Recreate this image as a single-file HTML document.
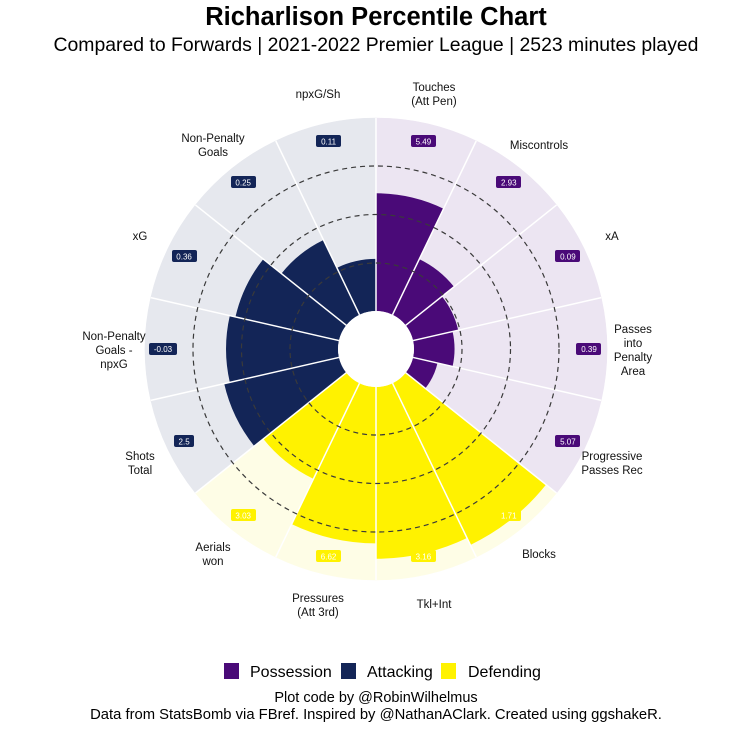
<!DOCTYPE html>
<html><head><meta charset="utf-8">
<style>
body{margin:0;background:#fff;width:750px;height:727px;overflow:hidden;font-family:"Liberation Sans",sans-serif;}
svg text{font-family:"Liberation Sans",sans-serif;}
</style></head>
<body>
<svg id="s" width="750" height="727" viewBox="0 0 750 727" xmlns="http://www.w3.org/2000/svg">
<text x="376" y="25" text-anchor="middle" font-size="25.5" font-weight="bold" fill="#000">Richarlison Percentile Chart</text>
<text x="376" y="51" text-anchor="middle" font-size="19.4" fill="#000">Compared to Forwards | 2021-2022 Premier League | 2523 minutes played</text>
<g id="shapes"></g>
<g id="vals" font-size="8" text-anchor="middle" fill="#fff">
<rect x="411" y="135" width="25" height="12" rx="2" fill="#4a0a78"/><text x="423.4" y="144.3">5.49</text>
<rect x="496" y="176" width="25" height="12" rx="2" fill="#4a0a78"/><text x="508.8" y="185.5">2.93</text>
<rect x="555" y="250" width="25" height="12" rx="2" fill="#4a0a78"/><text x="567.9" y="259.6">0.09</text>
<rect x="576" y="343" width="25" height="12" rx="2" fill="#4a0a78"/><text x="589" y="352">0.39</text>
<rect x="555" y="435" width="25" height="12" rx="2" fill="#4a0a78"/><text x="567.9" y="444.4">5.07</text>
<rect x="496" y="509" width="25" height="12" rx="2" fill="#fff200"/><text x="508.8" y="518.5">1.71</text>
<rect x="411" y="550" width="25" height="12" rx="2" fill="#fff200"/><text x="423.4" y="559.7">3.16</text>
<rect x="316" y="550" width="25" height="12" rx="2" fill="#fff200"/><text x="328.6" y="559.7">6.62</text>
<rect x="231" y="509" width="25" height="12" rx="2" fill="#fff200"/><text x="243.2" y="518.5">3.03</text>
<rect x="174" y="435" width="20" height="12" rx="2" fill="#132557"/><text x="184.1" y="444.4">2.5</text>
<rect x="149" y="343" width="28" height="12" rx="2" fill="#132557"/><text x="163" y="352">-0.03</text>
<rect x="172" y="250" width="25" height="12" rx="2" fill="#132557"/><text x="184.1" y="259.6">0.36</text>
<rect x="231" y="176" width="25" height="12" rx="2" fill="#132557"/><text x="243.2" y="185.5">0.25</text>
<rect x="316" y="135" width="25" height="12" rx="2" fill="#132557"/><text x="328.6" y="144.3">0.11</text>
</g>
<g font-size="11.5" text-anchor="middle" fill="#111">
<text x="434" y="91">Touches</text><text x="434" y="105">(Att Pen)</text>
<text x="539" y="149">Miscontrols</text>
<text x="612" y="240">xA</text>
<text x="633" y="333">Passes</text><text x="633" y="347">into</text><text x="633" y="361">Penalty</text><text x="633" y="375">Area</text>
<text x="612" y="460">Progressive</text><text x="612" y="474">Passes Rec</text>
<text x="539" y="558">Blocks</text>
<text x="434" y="608">Tkl+Int</text>
<text x="318" y="602">Pressures</text><text x="318" y="616">(Att 3rd)</text>
<text x="213" y="551">Aerials</text><text x="213" y="565">won</text>
<text x="140" y="460">Shots</text><text x="140" y="474">Total</text>
<text x="114" y="340">Non-Penalty</text><text x="114" y="354">Goals -</text><text x="114" y="368">npxG</text>
<text x="140" y="240">xG</text>
<text x="213" y="142">Non-Penalty</text><text x="213" y="156">Goals</text>
<text x="318" y="98">npxG/Sh</text>
</g>
<rect x="224" y="663" width="15" height="16" fill="#4a0a78"/>
<text x="250" y="677" font-size="16" fill="#000">Possession</text>
<rect x="341" y="663" width="15" height="16" fill="#132557"/>
<text x="367" y="677" font-size="16" fill="#000">Attacking</text>
<rect x="441" y="663" width="15" height="16" fill="#fff200"/>
<text x="468" y="677" font-size="16" fill="#000">Defending</text>
<text x="376" y="702" text-anchor="middle" font-size="14.5" fill="#000">Plot code by @RobinWilhelmus</text>
<text x="376" y="719" text-anchor="middle" font-size="14.8" fill="#000">Data from StatsBomb via FBref. Inspired by @NathanAClark. Created using ggshakeR.</text>
</svg>
<script>
(function(){
var cx=376,cy=349,R0=38,R1=231,n=14,step=360/n;
var p=[61,32,24,21,13,93,89,81,55,61,58,55,43,27];
var col=function(i){return i<5?'#4a0a78':(i<9?'#fff200':'#132557');};
var bg=function(i){return i<5?'#ece5f2':(i<9?'#fefde6':'#e6e8ee');};
function pt(r,a){a=a*Math.PI/180;return [cx+r*Math.sin(a),cy-r*Math.cos(a)];}
function sector(r0,r1,a0,a1){var A=pt(r1,a0),B=pt(r1,a1),C=pt(r0,a1),D=pt(r0,a0);
return 'M'+A+' A'+r1+','+r1+' 0 0 1 '+B+' L'+C+' A'+r0+','+r0+' 0 0 0 '+D+'Z';}
var h='';
for(var i=0;i<n;i++)h+='<path d="'+sector(0.1,R1,i*step,(i+1)*step)+'" fill="'+bg(i)+'" stroke="'+bg(i)+'" stroke-width="0.5"/>';
for(i=0;i<n;i++){var r=R0+p[i]/100*(R1-R0);h+='<path d="'+sector(R0,r,i*step,(i+1)*step)+'" fill="'+col(i)+'"/>';}
for(i=0;i<n;i++){var a=pt(R0,i*step),b=pt(R1,i*step);h+='<line x1="'+a[0]+'" y1="'+a[1]+'" x2="'+b[0]+'" y2="'+b[1]+'" stroke="#fff" stroke-width="1.5"/>';}
[86,134.5,183].forEach(function(r){h+='<circle cx="'+cx+'" cy="'+cy+'" r="'+r+'" fill="none" stroke="#3a3a3a" stroke-width="1.2" stroke-dasharray="5,4"/>';});
h+='<circle cx="'+cx+'" cy="'+cy+'" r="'+R0+'" fill="#fff"/>';
document.getElementById('shapes').innerHTML=h;
})();
</script>
</body></html>
